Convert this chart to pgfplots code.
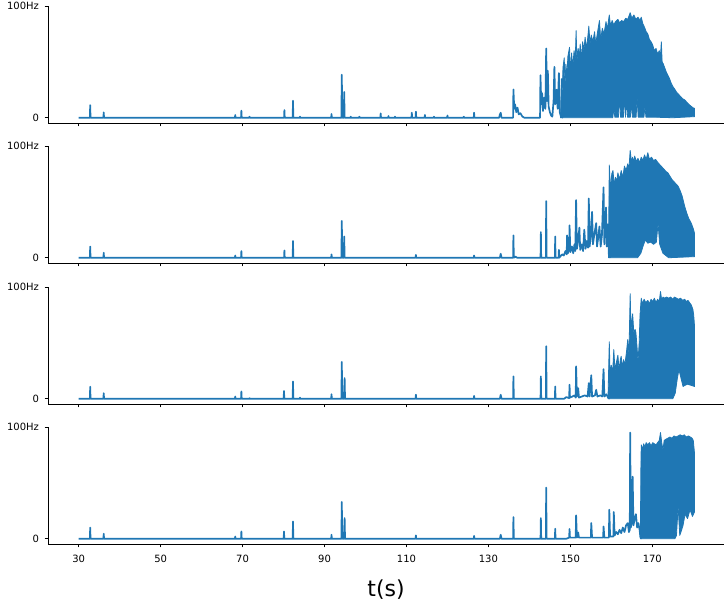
\documentclass[border=0pt]{standalone}
\usepackage{pgfplots}
\pgfplotsset{compat=1.18}
\usepackage{fontspec}
\setmainfont{DejaVu Sans}
\definecolor{mblue}{HTML}{1F77B4}
\pgfplotsset{
  panel/.style={
    scale only axis, width=676pt, height=117pt,
    xmin=22.5, xmax=187.5, ymin=-4.7, ymax=100,
    axis x line*=bottom, axis y line*=left,
    xtick={30,50,70,90,110,130,150,170}, ytick={0,100}, yticklabels={0,100Hz},
    tick align=outside, major tick length=3.5pt,
    tick style={black, line width=0.8pt},
    axis line style={black, line width=0.8pt},
    ticklabel style={font=\fontsize{10}{12}\selectfont},
    xticklabel style={yshift=-4pt},
    yticklabel style={xshift=-2pt},
    /pgf/number format/assume math mode=true,
  },
  dataline/.style={mblue, line width=1.7pt, line join=round, mark=none},
  datafill/.style={draw=mblue, fill=mblue, line width=0.8pt, line join=round, mark=none},
}
\begin{document}
\begin{tikzpicture}
\path[use as bounding box] (0,0) rectangle (728pt,601pt);
% ---------------- panel 1
\begin{axis}[panel, at={(48pt,478pt)}, anchor=south west, xticklabels={}]
\addplot[dataline] coordinates {(30,0)(32.72,0)(32.8,11.3)(32.88,0)(36.02,0)(36.1,4.8)(36.18,0)(68.12,0)(68.2,2.4)(68.28,0)(69.62,0)(69.7,6.3)(69.78,0)(71.62,0)(71.7,1)(71.78,0)(80.12,0)(80.2,6.9)(80.28,0)(82.22,0)(82.3,15.2)(82.38,0)(83.92,0)(84,1)(84.08,0)(91.62,0)(91.7,3.3)(91.78,0)(94.12,0)(94.2,38.4)(94.35,0)(94.7,0)(94.8,23)(94.9,0)(96.32,0)(96.4,1)(96.48,0)(98.42,0)(98.5,1)(98.58,0)(103.62,0)(103.7,3.9)(103.78,0)(105.52,0)(105.6,1.5)(105.68,0)(107.12,0)(107.2,1)(107.28,0)(111.22,0)(111.3,4.5)(111.38,0)(112.22,0)(112.3,5.4)(112.38,0)(114.42,0)(114.5,2.5)(114.58,0)(116.62,0)(116.7,1)(116.78,0)(119.92,0)(120,2)(120.08,0)(123.92,0)(124,1)(124.08,0)(126.42,0)(126.5,4.5)(126.58,0)(132.6,0)(132.8,3)(133,4.5)(133.2,0)(136.02,0)(136.1,25.3)(136.3,8)(136.5,12)(136.8,5)(137.1,9)(137.4,3)(137.8,4)(138.3,1)(138.8,0)(142.6,0)(142.7,38)(142.9,12)(143.1,22)(143.3,6)(143.6,18)(143.9,8)(144.1,62)(144.3,15)(144.5,42)(144.7,10)(145.0,5)(145.3,2)(145.6,1)(145.9,15)(146.1,45.5)(146.3,12)(146.6,25)(146.9,8)(147.2,40)(147.4,5)(147.7,1)(148.2,0)};
\addplot[datafill] coordinates {(147.6,0)(147.8,35)(148.0,22)(148.2,45)(148.5,53.6)(148.7,28)(148.9,48)(149.1,35)(149.4,55)(149.8,63)(150.0,38)(150.3,58)(150.6,45)(150.9,60)(151.2,52)(151.4,78)(151.6,50)(151.9,62)(152.2,55)(152.4,66)(152.7,52)(153.0,68)(153.3,60)(153.6,72)(153.9,62)(154.2,70)(154.5,82)(154.8,66)(155.1,74)(155.5,68)(155.9,77)(156.2,66)(156.6,76)(157.1,87)(157.4,70)(157.8,80)(158.2,75)(158.7,86)(159.0,79)(159.5,92)(159.8,82)(160.2,87)(160.6,83)(161.0,86)(161.6,88)(162.0,85)(162.5,87)(163.0,86)(163.5,89)(164.0,88)(164.6,94)(165.0,89)(165.5,92)(166.0,88)(166.5,90)(167.0,87)(167.3,90)(167.7,84)(168.1,81)(168.5,77)(168.9,75)(169.3,70)(169.7,68)(170.1,65)(170.5,60)(170.9,62)(171.3,57)(171.7,60)(172.0,55)(172.2,68)(172.4,50)(172.7,48)(173.0,45)(173.4,41)(173.8,38)(174.2,35)(174.6,31)(175.0,28)(175.4,26)(175.9,23)(176.4,21)(176.9,19)(177.4,17)(177.9,16)(178.4,14)(178.9,12)(179.4,10.5)(179.9,9)(180.3,8.4)
(180.3,1)(175,0)(170.5,0.5)(168.45,0.5)(168.2,10)(167.95,0.5)(166.55,0.5)(166.3,19)(166.05,0.5)(165.15,0.5)(164.9,14)(164.65,0.5)(163.95,0.5)(163.7,18)(163.45,0.5)(163.2,22)(162.95,0.5)(162.25,0.5)(162.0,22)(161.75,0.5)(160.85,0.5)(160.6,9)(160.35,0)(147.6,0)} -- cycle;
\end{axis}
% ---------------- panel 2
\begin{axis}[panel, at={(48pt,338pt)}, anchor=south west, xticklabels={}]
\addplot[dataline] coordinates {(30,0)(32.72,0)(32.8,10)(32.88,0)(36.02,0)(36.1,4.5)(36.18,0)(68.12,0)(68.2,2)(68.28,0)(69.62,0)(69.7,6)(69.78,0)(80.12,0)(80.2,6.5)(80.28,0)(82.22,0)(82.3,15)(82.38,0)(91.62,0)(91.7,3)(91.78,0)(94.12,0)(94.2,33)(94.35,0)(94.7,0)(94.8,19)(94.9,0)(112.22,0)(112.3,2.5)(112.38,0)(126.42,0)(126.5,2)(126.58,0)(132.8,0)(133,3.6)(133.2,0)(136.02,0)(136.1,20)(136.2,0)(136.6,1)(137,0)(142.72,0)(142.8,23)(142.88,0)(144.02,0)(144.1,50.7)(144.2,0)(146.22,0)(146.3,19)(146.38,0)(147.12,0)(147.2,7)(147.3,0)(147.5,1)(148.0,3)(148.4,2)(148.8,6)(149.1,3)(149.2,20)(149.4,4)(149.7,8)(149.8,29)(150.0,5)(150.4,10)(150.7,4)(151.0,12)(151.2,6)(151.4,51.6)(151.6,8)(151.9,15)(152.2,27)(152.4,7)(152.8,12)(153.1,6)(153.4,25)(153.7,8)(154.0,15)(154.3,9)(154.5,53)(154.7,10)(155.0,20)(155.3,41)(155.5,12)(155.9,22)(156.3,31)(156.5,10)(156.8,18)(157.1,28)(157.4,10)(157.7,20)(158.1,63)(158.3,12)(158.7,45)(158.9,10)(159.2,30)(159.4,2)(159.8,0)};
\addplot[datafill] coordinates {(159.3,5)(159.5,83)(159.8,60)(160.1,75)(160.4,78)(160.7,65)(161.0,72)(161.3,68)(161.6,76)(162.0,70)(162.4,78)(162.8,72)(163.2,82)(163.6,78)(164.0,84)(164.3,80)(164.6,96)(164.9,86)(165.2,90)(165.5,85)(165.7,91)(166.1,86)(166.5,89)(166.9,85)(167.3,90)(167.7,87)(168.1,92)(168.5,88)(168.9,94)(169.3,88)(169.8,90)(170.3,87)(170.8,88)(171.4,85)(171.9,83)(172.4,81)(172.9,79)(173.4,77)(173.8,76)(174.3,73)(174.8,70)(175.3,68)(175.8,66)(176.3,64)(176.8,60)(177.3,55)(177.9,46)(178.4,40)(178.9,35)(179.5,31)(180.0,26)(180.3,22)
(180.3,1)(174,0)(172.6,4)(171.8,12)(171.4,31)(171.0,14)(170.3,12)(169.6,14)(168.9,13)(168.3,16)(167.8,11)(167.2,4)(166.4,0)(159.3,0)} -- cycle;
\end{axis}
% ---------------- panel 3
\begin{axis}[panel, at={(48pt,197pt)}, anchor=south west, xticklabels={}]
\addplot[dataline] coordinates {(30,0)(32.72,0)(32.8,10.7)(32.88,0)(36.02,0)(36.1,5)(36.18,0)(68.12,0)(68.2,2)(68.28,0)(69.62,0)(69.7,6.5)(69.78,0)(71.62,0)(71.7,0.5)(71.78,0)(80.02,0)(80.1,7)(80.18,0)(82.22,0)(82.3,15.5)(82.38,0)(83.92,0)(84,1)(84.08,0)(91.62,0)(91.7,4)(91.78,0)(94.12,0)(94.2,33)(94.35,0)(94.8,0)(94.9,18.5)(95.0,0)(112.22,0)(112.3,3.6)(112.38,0)(126.42,0)(126.5,2.5)(126.58,0)(132.8,0)(133,3.6)(133.2,0)(136.02,0)(136.1,20)(136.2,0)(142.72,0)(142.8,20)(142.88,0)(144.02,0)(144.1,47)(144.2,0)(146.22,0)(146.3,11)(146.38,0)(148.5,0)(149.0,1.5)(149.7,0.5)(149.8,12.5)(149.9,1)(150.5,2)(151.0,3)(151.3,1)(151.4,29)(151.6,2)(151.9,9.5)(152.1,1)(152.8,2)(153.5,3)(154.2,2)(154.5,14)(154.7,2)(155.1,21)(155.3,2)(156.0,3)(156.3,8)(156.6,2)(157.3,3)(157.8,2)(158.1,26.5)(158.3,2)(158.8,4)(159.2,1)(159.6,0)};
\addplot[datafill] coordinates {(159.2,3)(159.5,51)(159.7,20)(160.0,30)(160.3,22)(160.6,44)(160.9,25)(161.2,32)(161.6,39)(161.9,25)(162.2,35)(162.4,38)(162.7,28)(163.0,35)(163.3,30)(163.7,42)(164.0,53)(164.3,40)(164.6,94)(164.8,60)(165.0,70)(165.2,76)(165.5,58)(165.8,62)(166.0,59)(166.3,45)(166.5,33)(166.8,50)(167.0,75)(167.3,90)(167.6,85)(168.0,89)(168.4,86)(168.9,88)(169.3,85)(169.7,89)(170.1,87)(170.5,90)(170.9,86)(171.3,89)(171.7,87)(172.0,96)(172.3,88)(172.6,91)(173.0,90)(173.5,91)(174.0,90)(174.5,91)(175.0,89)(175.4,91)(175.9,90)(176.4,89)(176.9,90)(177.4,88)(177.9,89)(178.3,87)(178.7,88)(179.1,86)(179.5,84)(179.9,80)(180.1,75)(180.3,65)
(180.3,11)(179.5,12)(178.5,13)(177.5,11)(176.9,20)(176.5,26)(176.1,18)(175.6,5)(175,0)(159.2,0)} -- cycle;
\end{axis}
% ---------------- panel 4
\begin{axis}[panel, at={(48pt,57pt)}, anchor=south west,
  xlabel={t(s)}, xlabel style={font=\fontsize{22}{26}\selectfont, inner sep=0pt, at={(axis description cs:0.5,0)}, anchor=north, yshift=-36pt}]
\addplot[dataline] coordinates {(30,0)(32.72,0)(32.8,10)(32.88,0)(36.02,0)(36.1,4.5)(36.18,0)(68.12,0)(68.2,2)(68.28,0)(69.62,0)(69.7,6.5)(69.78,0)(80.02,0)(80.1,6.5)(80.18,0)(82.22,0)(82.3,15.5)(82.38,0)(91.62,0)(91.7,3.5)(91.78,0)(94.12,0)(94.2,33)(94.35,0)(94.8,0)(94.9,18.5)(95.0,0)(112.22,0)(112.3,3)(112.38,0)(126.42,0)(126.5,2.5)(126.58,0)(132.8,0)(133,3.6)(133.2,0)(136.02,0)(136.1,19.4)(136.2,0)(142.72,0)(142.8,18.5)(142.88,0)(144.02,0)(144.1,45.8)(144.2,0)(146.22,0)(146.3,9)(146.38,0)(149.0,0)(149.7,1)(149.8,8.7)(149.9,1)(151.3,1)(151.4,21)(151.6,1)(151.9,5.6)(152.1,1)(155.0,1)(155.1,14)(155.3,1)(158.0,1)(158.1,11)(158.3,1)(159.4,1)(159.5,26)(159.7,2)(160.5,2)(160.6,24)(160.8,3)(161.2,6)(161.6,4)(162.0,8)(162.4,5)(162.8,10)(163.2,6)(163.6,12)(164.0,14)(164.3,6)(164.5,8)(164.6,95)(164.75,10)(165.0,15)(165.2,55.6)(165.4,12)(165.7,18)(166.0,22)(166.3,10)(166.6,14)(166.9,8)(167.1,1)(167.4,0)};
\addplot[datafill] coordinates {(167.1,3)(167.2,60)(167.3,84)(167.6,80)(167.9,85)(168.2,82)(168.5,86)(168.9,84)(169.3,86)(169.7,83)(170.1,86)(170.5,85)(170.9,84)(171.3,86)(171.7,88)(172.0,95)(172.3,86)(172.6,79.5)(172.9,88)(173.3,89)(173.8,90)(174.3,91)(174.8,90)(175.3,92)(175.8,91)(176.3,92)(176.8,93)(177.3,92)(177.8,93)(178.3,91)(178.8,92)(179.3,91)(179.7,90)(180.0,88)(180.3,76.5)
(180.3,24)(179.8,20)(179.2,26)(178.6,18)(178.0,22)(177.5,12)(177.0,6)(176.7,3)(176.3,29)(175.9,3)(175.5,0)(167.1,0)} -- cycle;
\end{axis}
\end{tikzpicture}
\end{document}
